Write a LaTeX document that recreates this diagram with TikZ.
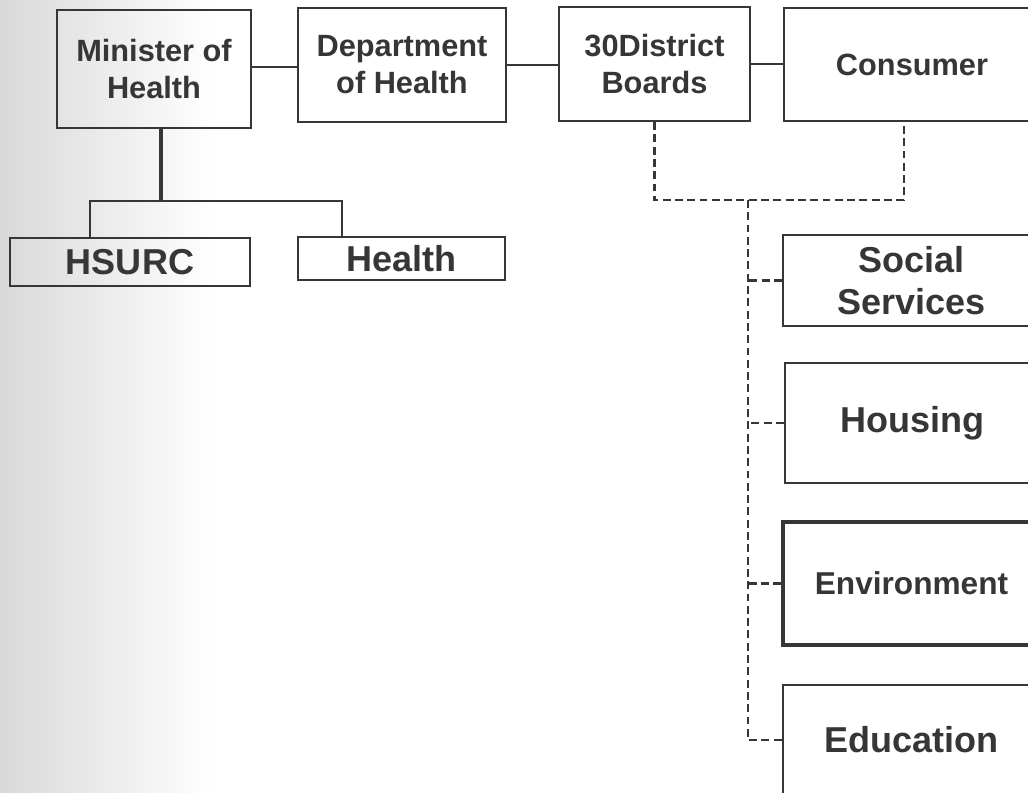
\documentclass[tikz,border=0pt]{standalone}
\usepackage{fontspec}
\setmainfont{Liberation Sans}
\definecolor{ink}{HTML}{363636}
\begin{document}
\begin{tikzpicture}[x=0.02cm,y=-0.02cm,
  box/.style={draw=ink,line width=1.2pt,text=ink,align=center,inner sep=0pt,
    font=\bfseries\fontsize{17.5}{21}\selectfont},
  big/.style={font=\bfseries\fontsize{20.5}{24}\selectfont},
  solidline/.style={draw=ink,line width=1.2pt},
  dashline/.style={draw=ink,line width=1.2pt,dash pattern=on 4.5pt off 2.5pt}]
  \useasboundingbox (0,0) rectangle (1028,793);
  \clip (0,0) rectangle (1028,793);
  \shade[left color=black!15,right color=white] (0,0) rectangle (215,793);
  % top row
  \node[box,minimum width=3.88cm,minimum height=2.36cm] (min) at (154,69) {Minister of\\Health};
  \node[box,minimum width=4.16cm,minimum height=2.28cm] (dept) at (402,65) {Department\\of Health};
  \node[box,minimum width=3.82cm,minimum height=2.28cm] (dist) at (654.5,64) {30District\\Boards};
  \node[box,minimum width=5.12cm,minimum height=2.26cm] (cons) at (912,64.5) {Consumer};
  % under the minister
  \node[box,big,minimum width=4.8cm,minimum height=0.96cm] (hsurc) at (130,262) {HSURC};
  \node[box,big,minimum width=4.14cm,minimum height=0.86cm] (hlth) at (401.5,258.5) {Health};
  % right column
  \node[box,big,minimum width=5.14cm,minimum height=1.82cm] (soc) at (911.5,280.5) {Social\\Services};
  \node[box,big,minimum width=5.1cm,minimum height=2.4cm] (hous) at (912.5,423) {Housing};
  \node[box,line width=1.9pt,minimum width=5.14cm,minimum height=2.46cm,
    font=\bfseries\fontsize{18}{22}\selectfont] (env) at (911.5,583.5) {Environment};
  \node[box,big,minimum width=5.14cm,minimum height=2.2cm] (edu) at (911.5,740) {Education};
  \coordinate (fork) at (161,201);
  \coordinate (dj) at (748,200);
  \draw[solidline] (dept.west |- 0,67) -- (min.east |- 0,67);
  \draw[solidline] (dept.east) -- (dept.east -| dist.west);
  \draw[solidline] (dist.east) -- (dist.east -| cons.west);
  \draw[solidline,line width=2pt] (fork |- min.south) -- (fork);
  \draw[solidline] (hsurc.north -| 90,0) |- (fork) -| (hlth.north -| 342,0);
  \draw[dashline] (dist.south) |- (dj) -| ([xshift=-0.16cm]cons.south);
  \draw[dashline] (dj) |- (edu.west);
  \draw[dashline] (soc.west) -- (soc.west -| dj);
  \draw[dashline] (hous.west) -- (hous.west -| dj);
  \draw[dashline] (env.west) -- (env.west -| dj);
\end{tikzpicture}
\end{document}
